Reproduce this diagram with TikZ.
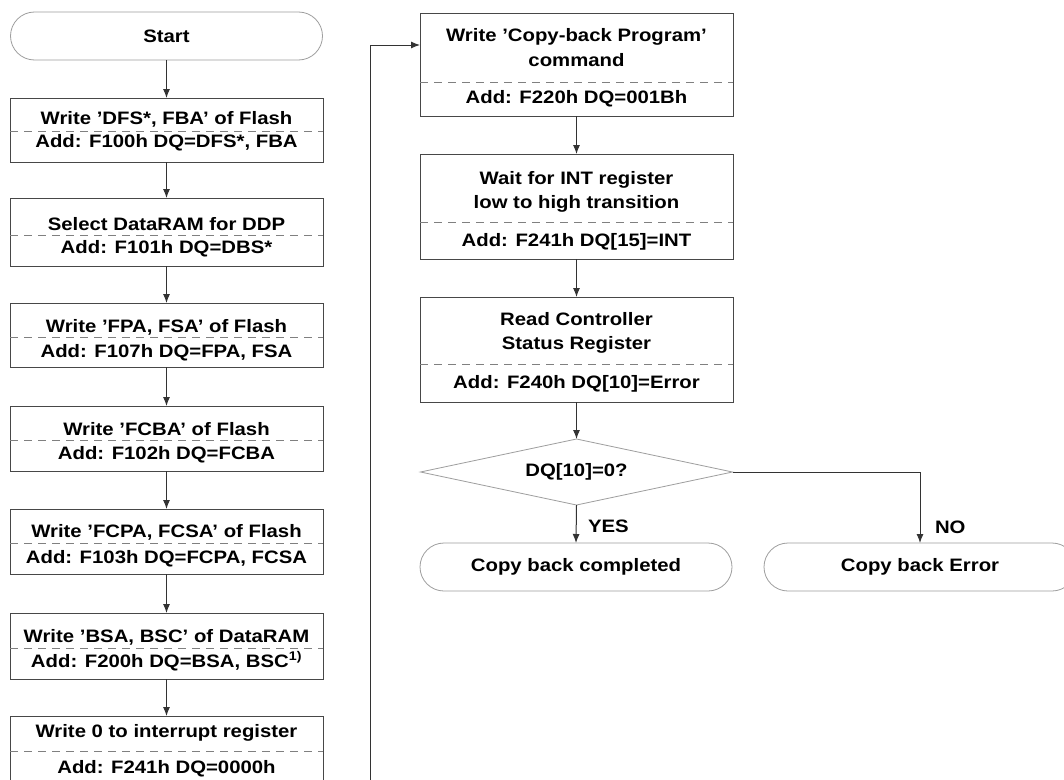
\documentclass[tikz,border=0pt]{standalone}
\usepackage{fontspec}
\setmainfont{Liberation Sans}[FakeStretch=1.13]
\usetikzlibrary{arrows.meta,calc,shapes.geometric}
\definecolor{boxc}{gray}{0.28}
\definecolor{arrc}{gray}{0.2}
\definecolor{sepc}{gray}{0.5}
\definecolor{termc}{gray}{0.62}
\begin{document}
\begin{tikzpicture}[x=1pt,y=-1pt,
  every node/.style={font=\fontsize{18}{22}\selectfont\bfseries, inner sep=0pt, outer sep=0pt, text=black},
  box/.style={draw=boxc, line width=1pt, rectangle, minimum width=313pt, anchor=north west},
  term/.style={draw=termc, line width=0.8pt, rectangle, rounded corners=24pt, minimum width=312pt, minimum height=48pt},
  txt/.style={anchor=base},
  sepline/.style={draw=sepc, line width=1pt, dash pattern=on 8pt off 6pt},
  arr/.style={draw=arrc, line width=1pt, -{Latex[length=9pt,width=7pt]}}]
\useasboundingbox (0,0) rectangle (1064,779);
\clip (0,0) rectangle (1064,779);
\fill[white] (0,0) rectangle (1064,779);

% left column
\node[term] (start) at (166.5,36) {Start};

\node[box, minimum height=64pt] (b1) at (10,98) {};
\node[txt] (b1a) at (166.5,124) {Write ’DFS*, FBA’ of Flash};
\node[txt] (b1b) at (166.5,147) {Add: F100h DQ=DFS*, FBA};
\draw[sepline] (10,131) -- (323,131);

\node[box, minimum height=68pt] (b2) at (10,198) {};
\node[txt] (b2a) at (166.5,230) {Select DataRAM for DDP};
\node[txt] (b2b) at (166.5,253) {Add: F101h DQ=DBS*};
\draw[sepline] (10,235) -- (323,235);

\node[box, minimum height=64pt] (b3) at (10,303) {};
\node[txt] (b3a) at (166.5,332) {Write ’FPA, FSA’ of Flash};
\node[txt] (b3b) at (166.5,357) {Add: F107h DQ=FPA, FSA};
\draw[sepline] (10,337) -- (323,337);

\node[box, minimum height=65pt] (b4) at (10,406) {};
\node[txt] (b4a) at (166.5,435) {Write ’FCBA’ of Flash};
\node[txt] (b4b) at (166.5,459) {Add: F102h DQ=FCBA};
\draw[sepline] (10,440) -- (323,440);

\node[box, minimum height=65pt] (b5) at (10,509) {};
\node[txt] (b5a) at (166.5,537) {Write ’FCPA, FCSA’ of Flash};
\node[txt] (b5b) at (166.5,563) {Add: F103h DQ=FCPA, FCSA};
\draw[sepline] (10,543) -- (323,543);

\node[box, minimum height=66pt] (b6) at (10,613) {};
\node[txt] (b6a) at (166.5,642) {Write ’BSA, BSC’ of DataRAM};
\node[txt] (b6b) at (166.5,667) {Add: F200h DQ=BSA, BSC\textsuperscript{1)}};
\draw[sepline] (10,648) -- (323,648);

\node[box, minimum height=90pt] (b7) at (10,716) {};
\node[txt] (b7a) at (166.5,737) {Write 0 to interrupt register};
\node[txt] (b7b) at (166.5,773) {Add: F241h DQ=0000h};
\draw[sepline] (10,751) -- (323,751);

\draw[arr] (start) -- (b1);
\draw[arr] (b1) -- (b2);
\draw[arr] (b2) -- (b3);
\draw[arr] (b3) -- (b4);
\draw[arr] (b4) -- (b5);
\draw[arr] (b5) -- (b6);
\draw[arr] (b6) -- (b7);

% right column
\node[box, minimum height=103pt] (c1) at (420,13) {};
\node[txt] (c1a) at (576.5,41) {Write ’Copy-back Program’};
\node[txt] (c1b) at (576.5,66) {command};
\node[txt] (c1c) at (576.5,103) {Add: F220h DQ=001Bh};
\draw[sepline] (420,82) -- (733,82);

\node[box, minimum height=105pt] (c2) at (420,154) {};
\node[txt] (c2a) at (576.5,184) {Wait for INT register};
\node[txt] (c2b) at (576.5,208) {low to high transition};
\node[txt] (c2c) at (576.5,246) {Add: F241h DQ[15]=INT};
\draw[sepline] (420,222) -- (733,222);

\node[box, minimum height=105pt] (c3) at (420,297) {};
\node[txt] (c3a) at (576.5,325) {Read Controller};
\node[txt] (c3b) at (576.5,349) {Status Register};
\node[txt] (c3c) at (576.5,388) {Add: F240h DQ[10]=Error};
\draw[sepline] (420,364) -- (733,364);

\node[diamond, draw=termc, line width=0.8pt, aspect=4.73, minimum width=312pt, minimum height=66pt] (dia) at (576.5,472) {};
\node (diat) at (576.5,472) {DQ[10]=0?};

\node[term] (done) at (576,567) {Copy back completed};
\node[term] (err) at (920,567) {Copy back Error};

\node[anchor=base west] (yes) at (588,532) {YES};
\node[anchor=base west] (no) at (935,533) {NO};

\coordinate (loopbot) at (370,800);
\draw[arr] (loopbot) |- ($(c1.north west)+(0,32)$);
\draw[arr] (c1) -- (c2);
\draw[arr] (c2) -- (c3);
\draw[arr] (c3) -- (dia);
\draw[arr] (dia.south) -- (done.north);
\draw[arr] (dia.east) -| (err.north);
\end{tikzpicture}
\end{document}
